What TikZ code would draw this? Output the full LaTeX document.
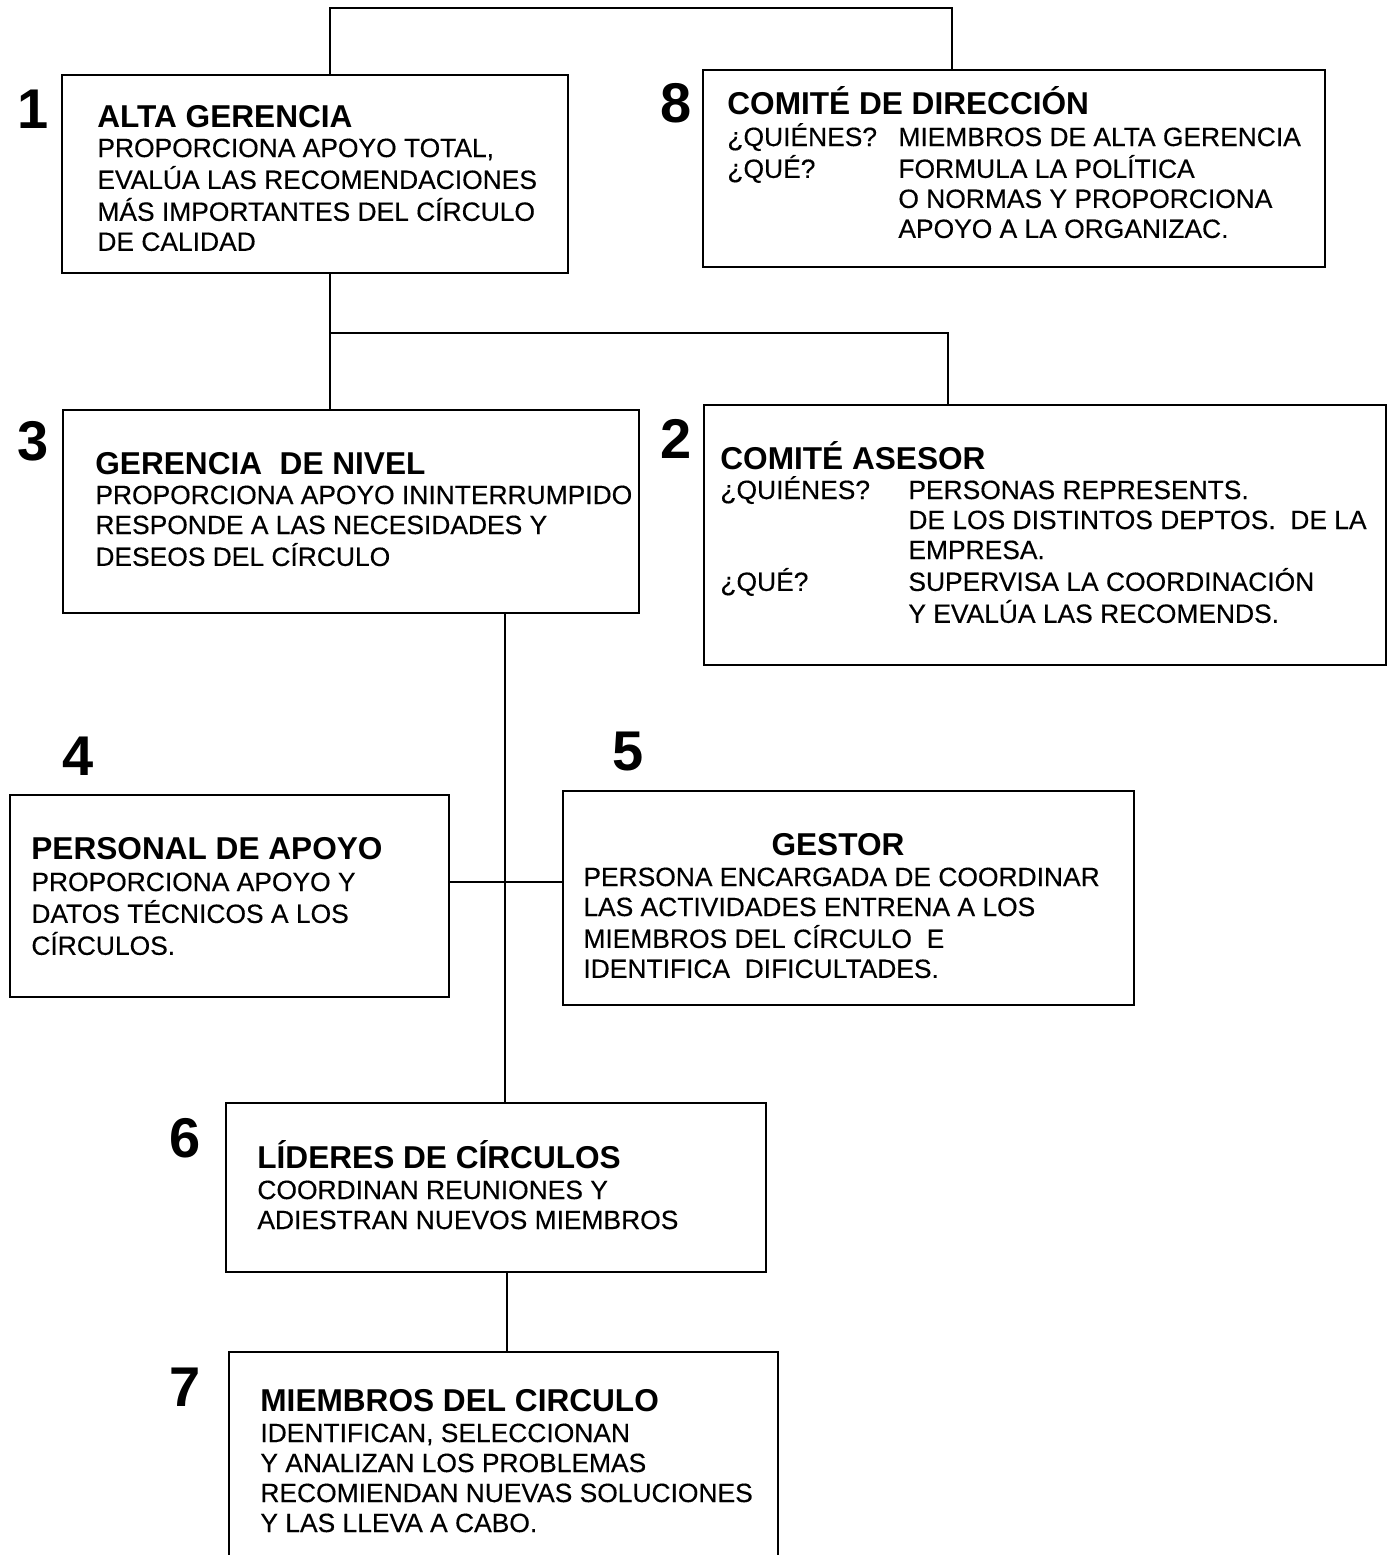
\documentclass[tikz,border=0pt]{standalone}
\usepackage{fontspec}
\setmainfont{Liberation Sans}
\newfontfamily\bodyfont[FakeBold=0.35]{Liberation Sans}
\usepackage{array}
\begin{document}
\begin{tikzpicture}[x=0.5pt,y=-0.5pt,
  frame/.style={draw, line width=1pt, inner sep=0pt, outer sep=0pt, anchor=north west},
  hollow/.style={inner sep=0pt, outer sep=0pt, anchor=north west},
  link/.style={line width=1pt},
  title/.style={anchor=base west, inner sep=0pt, font=\fontsize{15.8}{18}\selectfont\bfseries},
  body/.style={anchor=base west, inner sep=0pt, font=\bodyfont\fontsize{13.2}{15}\selectfont},
  num/.style={anchor=base, inner sep=0pt, font=\fontsize{28}{30}\selectfont\bfseries}]
\useasboundingbox[fill=white] (0,0) rectangle (1392,1555);

% boxes
\node[frame, minimum width=253pt, minimum height=99pt]   (b1) at (62,75) {};
\node[frame, minimum width=311pt, minimum height=98.5pt] (b8) at (703,70) {};
\node[frame, minimum width=288pt, minimum height=101.5pt] (b3) at (63,410) {};
\node[frame, minimum width=341pt, minimum height=130pt]  (b2) at (704,405) {};
\node[frame, minimum width=219.5pt, minimum height=101pt] (b4) at (10,795) {};
\node[frame, minimum width=285.5pt, minimum height=107pt] (b5) at (563,791) {};
\node[frame, minimum width=270pt, minimum height=84.5pt] (b6) at (226,1103) {};
\node[hollow, minimum width=274.5pt, minimum height=110pt] (b7) at (229,1352) {};
\draw[line width=1pt] (b7.south west) -- (b7.north west) -- (b7.north east) -- (b7.south east);

% numbers
\node[num] (n1) at (33,128) {1};
\node[num] (n8) at (676,122) {8};
\node[num] (n3) at (33,460) {3};
\node[num] (n2) at (676,458) {2};
\node[num] (n4) at (78,775) {4};
\node[num] (n5) at (628,770) {5};
\node[num] (n6) at (185,1157) {6};
\node[num] (n7) at (185,1406) {7};

% connectors
\coordinate (top1) at (330,8);
\coordinate (top8) at (952,8);
\draw[link] (b1.north -| top1) -- (top1) -- (top8) -- (b8.north -| top8);
\coordinate (j1) at (330,333);
\coordinate (j2) at (948,333);
\draw[link] (b1.south -| j1) -- (b3.north -| j1);
\draw[link] (j1) -- (j2) -- (b2.north -| j2);
\coordinate (v1) at (505,882);
\draw[link] (b3.south -| v1) -- (b6.north -| v1);
\draw[link] (b4.east |- v1) -- (b5.west |- v1);
\coordinate (v2) at (507,1300);
\draw[link] (b6.south -| v2) -- (b7.north -| v2);

% texts
\node[title] (h1) at (97,127) {ALTA GERENCIA};
\node[body] (t1) at (97,157) {\begin{tabular}[t]{@{}l@{}}
PROPORCIONA APOYO TOTAL,\\
EVALÚA LAS RECOMENDACIONES\\
MÁS IMPORTANTES DEL CÍRCULO\\
DE CALIDAD\end{tabular}};

\node[title] (h8) at (727,114) {COMITÉ DE DIRECCIÓN};
\node[body] (t8) at (727,146) {\begin{tabular}[t]{@{}p{85.5pt}@{}l@{}}
¿QUIÉNES? & MIEMBROS DE ALTA GERENCIA\\
¿QUÉ? & FORMULA LA POLÍTICA\\
 & O NORMAS Y PROPORCIONA\\
 & APOYO A LA ORGANIZAC.\end{tabular}};

\node[title] (h3) at (95,474) {GERENCIA\ \ DE NIVEL};
\node[body] (t3) at (95,504) {\begin{tabular}[t]{@{}l@{}}
PROPORCIONA APOYO ININTERRUMPIDO\\
RESPONDE A LAS NECESIDADES Y\\
DESEOS DEL CÍRCULO\end{tabular}};

\node[title] (h2) at (720,469) {COMITÉ ASESOR};
\node[body] (t2) at (720,499) {\begin{tabular}[t]{@{}p{94pt}@{}l@{}}
¿QUIÉNES? & PERSONAS REPRESENTS.\\
 & DE LOS DISTINTOS DEPTOS.\ \ DE LA\\
 & EMPRESA.\\
¿QUÉ? & SUPERVISA LA COORDINACIÓN\\
 & Y EVALÚA LAS RECOMENDS.\end{tabular}};

\node[title] (h4) at (31,859) {PERSONAL DE APOYO};
\node[body] (t4) at (31,891) {\begin{tabular}[t]{@{}l@{}}
PROPORCIONA APOYO Y\\
DATOS TÉCNICOS A LOS\\
CÍRCULOS.\end{tabular}};

\node[title, anchor=base] (h5) at (838,855) {GESTOR};
\node[body] (t5) at (583,886) {\begin{tabular}[t]{@{}l@{}}
PERSONA ENCARGADA DE COORDINAR\\
LAS ACTIVIDADES ENTRENA A LOS\\
MIEMBROS DEL CÍRCULO\ \ E\\
IDENTIFICA\ \ DIFICULTADES.\end{tabular}};

\node[title] (h6) at (257,1168) {LÍDERES DE CÍRCULOS};
\node[body] (t6) at (257,1199) {\begin{tabular}[t]{@{}l@{}}
COORDINAN REUNIONES Y\\
ADIESTRAN NUEVOS MIEMBROS\end{tabular}};

\node[title] (h7) at (260,1411) {MIEMBROS DEL CIRCULO};
\node[body] (t7) at (260,1442) {\begin{tabular}[t]{@{}l@{}}
IDENTIFICAN, SELECCIONAN\\
Y ANALIZAN LOS PROBLEMAS\\
RECOMIENDAN NUEVAS SOLUCIONES\\
Y LAS LLEVA A CABO.\end{tabular}};
\end{tikzpicture}
\end{document}
